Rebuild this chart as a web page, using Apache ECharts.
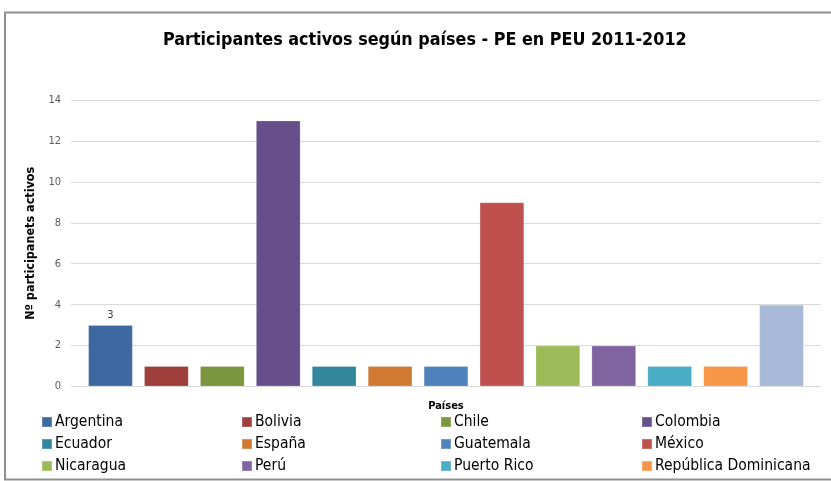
<!DOCTYPE html>
<html>
<head>
<meta charset="utf-8">
<script src="https://cdn.jsdelivr.net/npm/echarts@6/dist/echarts.min.js"></script>
<style>
  html, body { margin: 0; padding: 0; background: #fff; }
  #chart { width: 831px; height: 481px; }
</style>
</head>
<body>
<div id="chart"></div>
<script>
// datos del gráfico
const paises = ['Argentina', 'Bolivia', 'Chile', 'Colombia', 'Ecuador', 'España', 'Guatemala',
  'México', 'Nicaragua', 'Perú', 'Puerto Rico', 'República Dominicana', 'Venezuela']
const participantes = [3, 1, 1, 13, 1, 1, 1, 9, 2, 2, 1, 1, 4]
const colores = ['#3d69a0', '#9e3f3c', '#7a9740', '#664f8a', '#32879d', '#d07a34', '#4f81bd',
  '#c0504d', '#9bbb59', '#8064a2', '#4bacc6', '#f79646', '#a9b9d8']
const yTicks = [0, 2, 4, 6, 8, 10, 12, 14]

// columnas de la leyenda (la última serie no aparece en la leyenda)
const leyendaColumnas = [
  ['Argentina', 'Ecuador', 'Nicaragua'],
  ['Bolivia', 'España', 'Perú'],
  ['Chile', 'Guatemala', 'Puerto Rico'],
  ['Colombia', 'México', 'República Dominicana']
]
const leyendaX = [41, 241, 440, 641]

const fuente = "'Liberation Sans Narrow', 'DejaVu Sans Condensed', sans-serif"

const chart = echarts.init(document.getElementById('chart'))

const series = paises.map((p, i) => ({
  name: p,
  type: 'bar',
  stack: 'total',
  xAxisIndex: 1,
  yAxisIndex: 1,
  barCategoryGap: '20%',
  itemStyle: { color: colores[i], borderColor: 'rgba(255,255,255,0.2)', borderWidth: 1 },
  label: {
    show: i === 0,
    position: 'top',
    distance: 4,
    fontSize: 11,
    color: '#404040',
    fontFamily: fuente
  },
  data: paises.map((q, j) => (j === i ? participantes[i] : '-'))
}))

chart.setOption({
  animation: false,
  color: colores,
  title: {
    text: 'Participantes activos según países - PE en PEU 2011-2012',
    left: 158,
    top: 26,
    textStyle: { fontSize: 17.8, fontWeight: 'bold', color: '#000', fontFamily: fuente }
  },
  graphic: [{
    type: 'rect',
    shape: { x: 5, y: 12.5, width: 840, height: 467 },
    style: { fill: null, stroke: '#8f8f8f', lineWidth: 2 },
    silent: true,
    z: -1
  }],
  legend: leyendaColumnas.map((col, k) => ({
    data: col,
    orient: 'vertical',
    left: leyendaX[k],
    top: 414,
    height: 100,
    padding: 0,
    itemWidth: 10,
    itemHeight: 10,
    itemGap: 6,
    icon: 'rect',
    selectedMode: false,
    textStyle: { fontSize: 15.5, lineHeight: 15, color: '#000', fontFamily: fuente, padding: [0, 0, 0, -2] }
  })),
  grid: [
    { left: 71, right: 10, top: 100, bottom: 94.5 },
    { left: 82.5, right: 21.5, top: 100, bottom: 94.5 }
  ],
  xAxis: [
    { type: 'value', gridIndex: 0, show: false, min: 0, max: 1 },
    {
      type: 'category',
      gridIndex: 1,
      data: paises,
      name: 'Países',
      nameLocation: 'middle',
      nameGap: 14,
      nameTextStyle: { fontSize: 11, fontWeight: 'bold', color: '#000', fontFamily: fuente },
      axisLine: { show: false },
      axisTick: { show: false },
      axisLabel: { show: false }
    }
  ],
  yAxis: [
    {
      type: 'value',
      gridIndex: 0,
      min: yTicks[0],
      max: yTicks[yTicks.length - 1],
      interval: 2,
      name: 'Nº participanets activos',
      nameLocation: 'middle',
      nameGap: 33,
      nameRotate: 90,
      nameTextStyle: { fontSize: 12.5, fontWeight: 'bold', color: '#000', fontFamily: fuente },
      axisLine: { show: false },
      axisTick: { show: false },
      axisLabel: { fontSize: 11, color: '#595959', margin: 10, fontFamily: fuente },
      splitLine: { lineStyle: { color: '#d9d9d9', width: 1 } }
    },
    {
      type: 'value',
      gridIndex: 1,
      min: yTicks[0],
      max: yTicks[yTicks.length - 1],
      interval: 2,
      show: false,
      splitLine: { show: false }
    }
  ],
  series
})
</script>
</body>
</html>
